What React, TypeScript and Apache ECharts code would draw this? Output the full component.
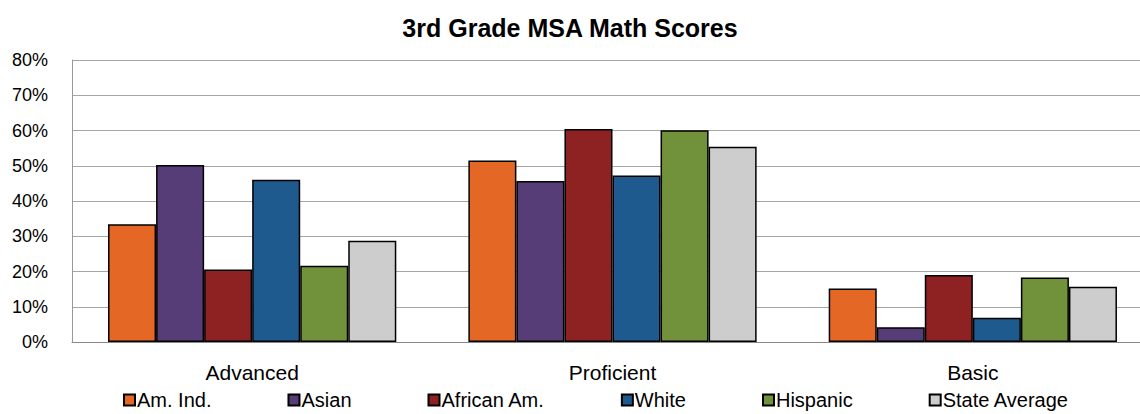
import React, { useEffect, useRef } from "react";
import * as echarts from "echarts";

const categories = ["Advanced", "Proficient", "Basic"];
const seriesNames = ["Am. Ind.", "Asian", "African Am.", "White", "Hispanic", "State Average"];
const amInd = [33.4, 51.5, 15.2];
const asian = [50.2, 45.7, 4.2];
const africanAm = [20.6, 60.4, 19.0];
const white = [46.0, 47.2, 6.9];
const hispanic = [21.6, 60.1, 18.3];
const stateAverage = [28.7, 55.4, 15.7];
const seriesValues = [amInd, asian, africanAm, white, hispanic, stateAverage];
const colors = ["#E46726", "#573D77", "#8E2122", "#1F5A8E", "#71913B", "#CDCDCD"];
const yTicks = [0, 10, 20, 30, 40, 50, 60, 70, 80];

const FONT = "Liberation Sans";

export default function App() {
  const ref = useRef<HTMLDivElement>(null);
  useEffect(() => {
    document.body.style.margin = "0";
    const chart = echarts.init(ref.current!, null, { renderer: "svg" });
    chart.setOption({
      animation: false,
      backgroundColor: "#ffffff",
      title: {
        text: "3rd Grade MSA Math Scores",
        left: "center",
        top: 10,
        textStyle: { fontFamily: FONT, fontWeight: "bold", fontSize: 25, color: "#000" },
      },
      legend: {
        data: seriesNames,
        left: 118,
        top: 385,
        itemWidth: 11,
        itemHeight: 11,
        itemGap: 76,
        icon: "rect",
        textStyle: { fontFamily: FONT, fontSize: 20, color: "#000", padding: [0, 0, 0, -3] },
      },
      grid: {
        left: 72,
        width: 1081,
        top: 60,
        bottom: 72,
        containLabel: false,
        outerBoundsMode: "none",
      },
      xAxis: {
        type: "category",
        data: categories,
        axisTick: { show: false },
        axisLine: { show: true, lineStyle: { color: "#888", width: 1 } },
        axisLabel: { fontFamily: FONT, fontSize: 21, color: "#000", margin: 20 },
      },
      yAxis: {
        type: "value",
        min: yTicks[0],
        max: yTicks[yTicks.length - 1],
        interval: 10,
        axisLine: { show: true, lineStyle: { color: "#999", width: 1 } },
        axisTick: { show: false },
        splitLine: { lineStyle: { color: "#A6A6A6", width: 1 } },
        axisLabel: {
          fontFamily: FONT,
          fontSize: 18,
          color: "#000",
          margin: 24,
          formatter: (v: number) => v + "%",
        },
      },
      series: seriesNames.map((name, i) => ({
        name,
        type: "bar",
        data: seriesValues[i],
        barGap: "0%",
        barCategoryGap: "20%",
        itemStyle: { color: colors[i], borderColor: "#000", borderWidth: 1.5 },
      })),
    });
    return () => chart.dispose();
  }, []);
  return <div ref={ref} style={{ width: 1140, height: 414 }} />;
}
